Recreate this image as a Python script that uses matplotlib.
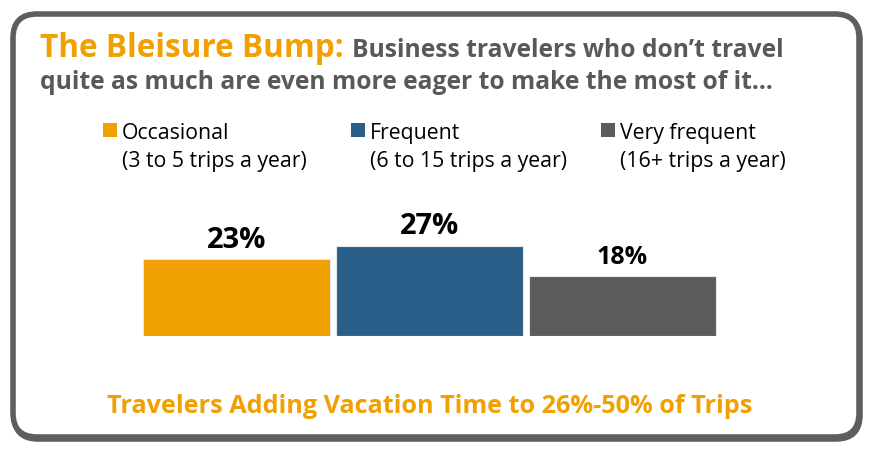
import matplotlib.pyplot as plt
from matplotlib.patches import FancyBboxPatch, Rectangle

# data
categories = ["Occasional", "Frequent", "Very frequent"]
subtitles = ["(3 to 5 trips a year)", "(6 to 15 trips a year)", "(16+ trips a year)"]
values = [23, 27, 18]
colors = ["#F0A000", "#2A5F8A", "#5B5B5B"]

ORANGE = "#F0A000"
GRAY = "#595959"
FONT = "Open Sans"

fig = plt.figure(figsize=(8.71, 4.52), dpi=100)

# background axes in pixel units for border and text
bg = fig.add_axes([0, 0, 1, 1])
bg.set_xlim(0, 871)
bg.set_ylim(452, 0)
bg.axis("off")

# slight shadow under the frame, then the frame itself
bg.add_patch(FancyBboxPatch((14, 17), 846, 423,
                            boxstyle="round,pad=0,rounding_size=24",
                            fc="none", ec="#5E5E5E", lw=4))
bg.add_patch(FancyBboxPatch((13, 15), 846, 423,
                            boxstyle="round,pad=0,rounding_size=24",
                            fc="white", ec="#5E5E5E", lw=4))

# title
bg.text(40, 57, "The Bleisure Bump:", color=ORANGE, fontsize=22.7,
        fontweight="bold", family=FONT, va="baseline")
bg.text(352, 57, "Business travelers who don\u2019t travel", color=GRAY,
        fontsize=17.7, fontweight="bold", family=FONT, va="baseline")
bg.text(40, 89, "quite as much are even more eager to make the most of it\u2026",
        color=GRAY, fontsize=17.7, fontweight="bold", family=FONT, va="baseline")

# legend
leg_x = [103, 351, 601]
for x, name, sub, c in zip(leg_x, categories, subtitles, colors):
    bg.add_patch(Rectangle((x, 124), 14, 14, fc=c, ec="none"))
    bg.text(x + 19, 139, name, fontsize=15.3, family=FONT, color="black", va="baseline")
    bg.text(x + 19, 167, sub, fontsize=15.3, family=FONT, color="black", va="baseline")

# bars
ax = fig.add_axes([140.5 / 871, 1 - 337 / 452, 578 / 871, 100 / 452])
x = range(len(values))
ax.bar(x, values, width=0.97, color=colors, edgecolor="#E8E8E8", linewidth=0.8)
ax.set_xlim(-0.5, 2.5)
ax.set_ylim(0, 30)
ax.axis("off")
label_sizes = [21, 21, 18]
for xi, v, fs in zip(x, values, label_sizes):
    ax.annotate(f"{v}%", (xi, v), xytext=(0, 9), textcoords="offset points",
                ha="center", va="baseline", fontsize=fs, fontweight="bold",
                family=FONT, color="black", annotation_clip=False)

bg.text(430, 413, "Travelers Adding Vacation Time to 26%-50% of Trips",
        color=ORANGE, fontsize=18.2, fontweight="bold", family=FONT,
        ha="center", va="baseline")

fig.savefig("out.png", dpi=100)
